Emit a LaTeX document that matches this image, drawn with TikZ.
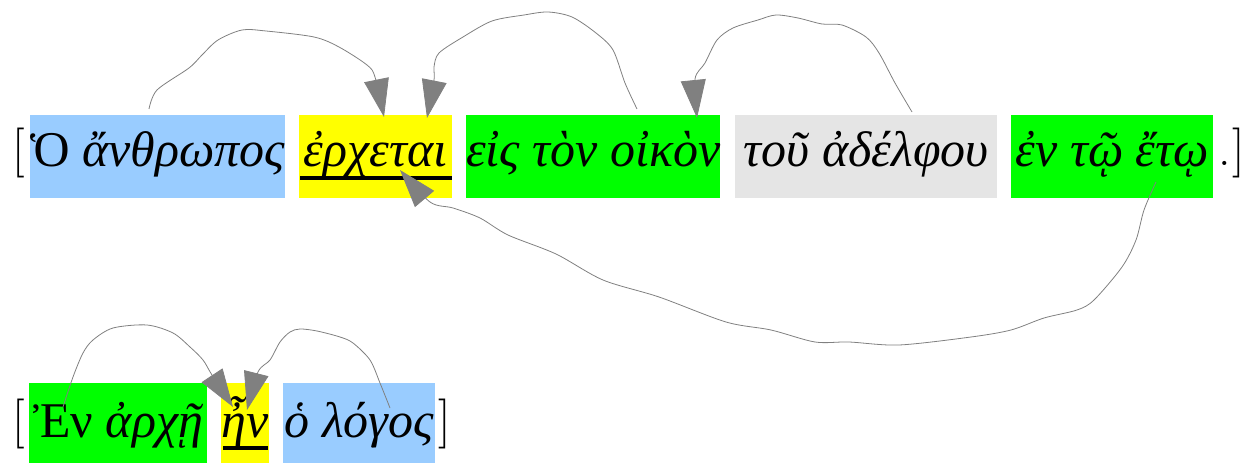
\documentclass[tikz,border=0pt]{standalone}
\usepackage{fontspec}
\newfontfamily\gr{Liberation Serif}
\usetikzlibrary{arrows.meta,calc}
\definecolor{wblue}{HTML}{99CCFF}
\definecolor{wyellow}{HTML}{FFFF00}
\definecolor{wgreen}{HTML}{00FF00}
\definecolor{wgray}{HTML}{E5E5E5}
\definecolor{conn}{HTML}{808080}
\begin{document}
\begin{tikzpicture}[x=1pt,y=1pt,
  every node/.style={font=\fontsize{50}{60}\selectfont},
  wordbox/.style={anchor=north west, inner xsep=0pt, inner ysep=0pt, minimum height=0pt},
  rowone/.style={wordbox, text height=51pt, text depth=32pt},
  rowtwo/.style={wordbox, text height=54pt, text depth=26pt},
  plain/.style={anchor=base west, inner sep=0pt},
  link/.style={draw=conn, line width=0.8pt, -{Triangle[length=38pt,width=25pt]}},
  uline/.style={fill=black}]
\useasboundingbox (0,0) rectangle (1250,463);
% row 1
\node[rowone, fill=wblue, minimum width=255pt] (b1) at (30,348) {\gr Ὁ {\itshape ἄνθρωπος}};
\node[rowone, fill=wyellow, minimum width=153pt] (b2) at (299,348) {\gr\itshape ἐρχεται};
\node[rowone, fill=wgreen, minimum width=254pt] (b3) at (466,348) {\gr\itshape εἰς τὸν οἰκὸν};
\node[rowone, fill=wgray, minimum width=262pt] (b4) at (735,348) {\gr\itshape τοῦ ἀδέλφου};
\node[rowone, fill=wgreen, minimum width=202pt] (b5) at (1011,348) {\gr\itshape ἐν τῷ ἔτῳ};
\node[plain] (lb1) at (12,297) {[};
\node[plain] (rb1) at (1218,297) {.\kern2pt]};
% row 2
\node[rowtwo, fill=wgreen, minimum width=178pt] (c1) at (29,80) {\gr Ἐν {\itshape ἀρχῇ}};
\node[rowtwo, fill=wyellow, minimum width=48pt] (c2) at (221,80) {\gr\itshape ἦν};
\node[rowtwo, fill=wblue, minimum width=152pt] (c3) at (283,80) {\gr\itshape ὁ λόγος};
\node[plain] (lb2) at (12,26) {[};
\node[plain] (rb2) at (438,26) {]};
% underlines
\fill[uline] ($(b2.south west)+(1,18)$) rectangle ($(b2.south east)+(0,22)$);
\fill[uline] ($(c2.south west)+(2,13)$) rectangle ($(c2.south east)+(-1,17)$);
% connector ends
\coordinate (a1s) at ($(b1.north west)+(119,6)$);
\coordinate (a1e) at ($(b2.north west)+(85,-2)$);
\coordinate (a2s) at ($(b3.north west)+(171,6)$);
\coordinate (a2e) at ($(b2.north west)+(128,-3)$);
\coordinate (a3s) at ($(b4.north west)+(177,3)$);
\coordinate (a3e) at ($(b3.north west)+(231,-3)$);
\coordinate (a4s) at ($(b5.north west)+(145,-67)$);
\coordinate (a4e) at ($(b2.north west)+(101,-55)$);
\coordinate (a5s) at ($(c1.north west)+(34,-24)$);
\coordinate (a5e) at ($(c2.north west)+(12,-24)$);
\coordinate (a6s) at ($(c3.north west)+(107,-25)$);
\coordinate (a6e) at ($(c2.north west)+(26,-27)$);
% connectors
\draw[link] plot[smooth, tension=0.5] coordinates {(a1s) (157,373) (189,395) (202,408) (218,423) (242,433) (266,432) (314,426) (339,416) (367,398) (375,386) (a1e)};
\draw[link] plot[smooth, tension=0.5] coordinates {(a2s) (625,380) (613,413) (596,430) (572,446) (548,451) (524,448) (492,442) (463,426) (439,410) (434,396) (434,383) (a2e)};
\draw[link] plot[smooth, tension=0.5] coordinates {(a3s) (895,380) (879,410) (866,426) (842,438) (822,439) (798,445) (776,448) (758,443) (733,435) (717,423) (705,400) (695,384) (a3e)};
\draw[link] plot[smooth, tension=0.5] coordinates {(a4s) (1144,253) (1136,223) (1122,196) (1094,163) (1077,153) (1044,145) (1011,133) (971,126) (899,118) (849,121) (815,121) (771,133) (726,141) (659,166) (603,183) (556,209) (508,228) (480,245) (453,255) (430,261) (a4e)};
\draw[link] plot[smooth, tension=0.5] coordinates {(a5s) (73,86) (83,110) (93,123) (113,135) (147,138) (173,130) (190,116) (203,103) (212,88) (a5e)};
\draw[link] plot[smooth, tension=0.5] coordinates {(a6s) (380,80) (370,103) (353,120) (340,126) (317,132) (300,134) (290,131) (280,121) (270,103) (258,91) (a6e)};
\end{tikzpicture}
\end{document}
